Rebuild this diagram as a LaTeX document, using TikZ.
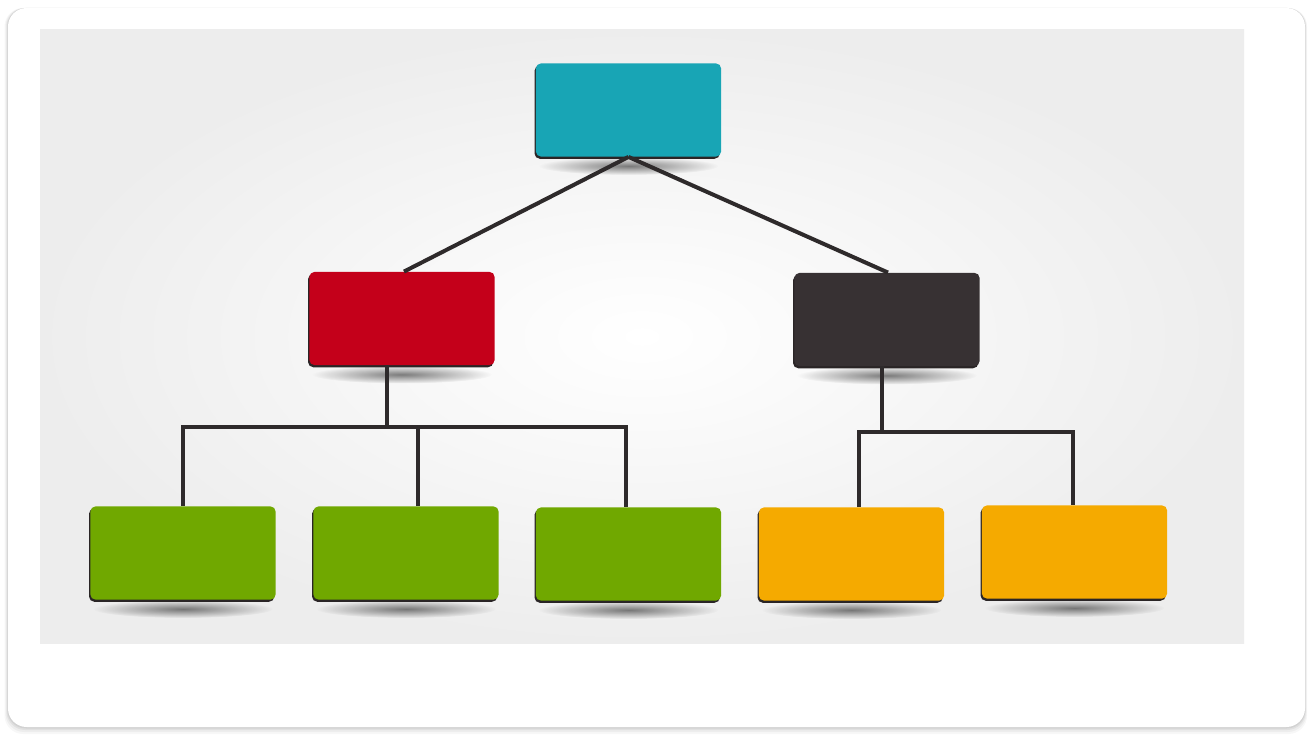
\documentclass[tikz,border=0pt]{standalone}
\usetikzlibrary{calc,fadings}
\definecolor{teal1}{HTML}{18A5B5}
\definecolor{red1}{HTML}{C4001A}
\definecolor{dark1}{HTML}{373133}
\definecolor{green1}{HTML}{70A800}
\definecolor{orange1}{HTML}{F5AA00}
\definecolor{linec}{HTML}{2E2A2B}
\definecolor{edgec}{HTML}{2A2526}
\pgfdeclarelayer{bg}
\pgfdeclarelayer{shadows}
\pgfsetlayers{bg,shadows,main}
\tikzfading[name=fuzzy, inner color=transparent!0, outer color=transparent!100]
\tikzset{
  box/.style={rectangle, rounded corners=4pt, minimum width=139pt, minimum height=70pt, inner sep=0pt,
    preaction={fill=edgec, transform canvas={xshift=-1pt,yshift=-1.6pt}}},
  conn/.style={draw=linec, line width=3pt},
  shad/.style={fill=black, opacity=0.5, path fading=fuzzy}
}
\begin{document}
\begin{tikzpicture}[x=0.75pt,y=-0.75pt]
\useasboundingbox (0,0) rectangle (1314,742);
\begin{pgfonlayer}{bg}
\fill[white] (0,0) rectangle (1314,742);
% card shadow
\foreach \o/\a in {7/0.03,5/0.04,3/0.05,1.5/0.06}{
  \fill[black, opacity=\a, rounded corners=14pt] (8-\o*0.5,8) rectangle (1305+\o*0.3,727+\o);
}
\fill[white, rounded corners=14pt] (8,8) rectangle (1305,727);
% inner picture
\shade[inner color=white, outer color=black!7] (40,30) rectangle (1244,643);
\end{pgfonlayer}
% boxes
\node[box, fill=teal1]   (top) at (628.5,110) {};
\node[box, fill=red1]    (rd)  at (402,318.5) {};
\node[box, fill=dark1]   (dk)  at (887,319.5) {};
\node[box, fill=green1]  (g1)  at (183,553) {};
\node[box, fill=green1]  (g2)  at (406,553) {};
\node[box, fill=green1]  (g3)  at (628.5,554) {};
\node[box, fill=orange1] (o1)  at (851.5,554) {};
\node[box, fill=orange1] (o2)  at (1074.5,552) {};
% shadows
\begin{pgfonlayer}{shadows}
\foreach \n in {top,rd,dk,g1,g2,g3,o1,o2}{
  \fill[shad] ($(\n.south)+(0,9)$) ellipse [x radius=90, y radius=9];
}
\end{pgfonlayer}
% connectors
\coordinate (jr) at (387,427);
\coordinate (jd) at (882,432);
\draw[conn] (top.south) -- ($(rd.north)+(2,0)$);
\draw[conn] (top.south) -- ($(dk.north)+(1,0)$);
\draw[conn] (rd.south -| jr) -- (jr);
\draw[conn] (g1.north) -- (g1.north |- jr) -- ($(g3.north |- jr)+(-2.5,0)$) -- ($(g3.north)+(-2.5,0)$);
\draw[conn] ($(g2.north)+(12,0)$) -- ($(g2.north |- jr)+(12,0)$);
\draw[conn] (dk.south -| jd) -- (jd);
\draw[conn] ($(o1.north)+(7.5,0)$) -- ($(o1.north |- jd)+(7.5,0)$) -- ($(o2.north |- jd)+(-1.5,0)$) -- ($(o2.north)+(-1.5,0)$);
\end{tikzpicture}
\end{document}
